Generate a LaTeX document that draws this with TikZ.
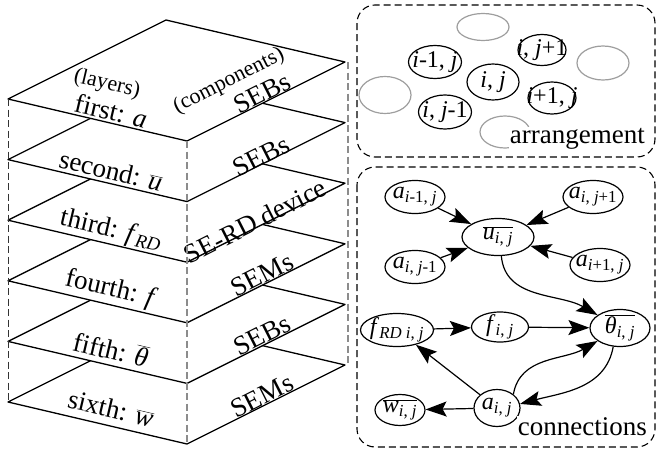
\documentclass[tikz,border=0pt]{standalone}
\usepackage{fontspec}
\setmainfont{Liberation Serif}
\usetikzlibrary{arrows.meta,shapes.geometric}
\newcommand{\vi}[1]{\textit{#1}}
\newcommand{\ol}[1]{$\overline{\hbox{#1}}$}
\newcommand{\sbs}[1]{\textsubscript{#1}}

\begin{document}
\begin{tikzpicture}[x=1pt,y=-1pt,
    layer/.style={draw,fill=white,line width=1.3pt,line join=round},
    guide/.style={line width=1.1pt,dash pattern=on 7pt off 3.5pt},
    big/.style={font=\fontsize{27}{29}\selectfont,inner sep=0pt},
    small/.style={font=\fontsize{22}{24}\selectfont,inner sep=0pt},
    cell/.style={draw,ellipse,line width=1.2pt,inner sep=0pt,minimum height=33pt},
    ghost/.style={draw=black!38,ellipse,line width=1.2pt,inner sep=0pt},
    frame/.style={draw,line width=1.1pt,dash pattern=on 7pt off 4pt,rounded corners=18pt},
    link/.style={-{Stealth[length=21pt,width=15pt,inset=4pt]},line width=1.2pt},
    every label/.style={font=\fontsize{24}{26}\selectfont,inner sep=0pt}]
\useasboundingbox (0,0) rectangle (657,450);

% stack of layers, bottom one first
\foreach \k/\lay/\comp/\cx/\cy in {5/sixth: \ol{\vi{w}}/SEMs/262/396,4/fifth: \ol{\vi{θ}}/SEBs/262/335,
    3/fourth: \vi{f}/SEMs/262/275,2/third: \vi{f}\sbs{\vi{RD}}/SE-RD device/255/221,
    1/second: \ol{\vi{u}}/SEBs/261/156,0/first: \vi{a}/SEBs/262/93}{
  \pgfmathsetmacro{\dy}{60.6*\k}
  \draw[layer] (8,99+\dy) -- (166,20+\dy) -- (345,62+\dy) -- (187,141+\dy) -- cycle;
  \node[big,rotate=-13.2] (lay\k) at (111,111+59.5*\k) {\lay};
  \node[big,rotate=26.9] (comp\k) at (\cx,\cy) {\comp};
}
\node[small,rotate=-13.2] (layers) at (107,84) {(layers)};
\node[small,rotate=26.9] (components) at (229,81) {(components)};

\draw[guide,black!80,line width=0.9pt] (8,99) -- (8,402);
\draw[guide,black!45] (187,141) -- (187,444);
\draw[guide,black!45] (348,62) -- (348,365);

% the two panels
\draw[frame] (357,5) rectangle (655,157);
\draw[frame] (357,167) rectangle (655,447);

% arrangement
\node[ghost,minimum width=52pt,minimum height=27pt] (g1) at (483,27) {};
\node[ghost,minimum width=52pt,minimum height=34pt] (g2) at (603,63) {};
\node[ghost,minimum width=52pt,minimum height=37pt] (g3) at (385,95) {};
\node[ghost,minimum width=50pt,minimum height=32pt] (g4) at (505,132) {};
\node[cell,minimum width=53pt,label={center:{\vi{i}-1, \vi{j}}}] (im) at (435,62) {};
\node[cell,minimum width=48pt,minimum height=31pt,label={center:{\vi{i}, \vi{j}+1}}] (jp) at (542,50) {};
\node[cell,minimum width=52pt,minimum height=36pt,label={center:{\vi{i}, \vi{j}}}] (ij) at (493,82) {};
\node[cell,minimum width=48pt,minimum height=32pt,label={center:{\vi{i}+1, \vi{j}}}] (ip) at (552,98) {};
\node[cell,minimum width=53pt,minimum height=34pt,label={center:{\vi{i}, \vi{j}-1}}] (jm) at (445,112) {};
\node[big,fill=white,inner sep=1pt,anchor=base east] (arr) at (646,143) {arrangement};

% connections
\node[cell,minimum width=60pt,label={center:{\vi{a}\sbs{\vi{i}-1, \vi{j}}}}] (aim) at (415,197) {};
\node[cell,minimum width=60pt,label={center:{\vi{a}\sbs{\vi{i}, \vi{j}+1}}}] (ajp) at (593,197) {};
\node[cell,minimum width=72pt,minimum height=37pt,label={center:{\ol{\vi{u}\sbs{\vi{i}, \vi{j}}}}}] (ubar) at (498,237) {};
\node[cell,minimum width=60pt,label={center:{\vi{a}\sbs{\vi{i}, \vi{j}-1}}}] (ajm) at (415,267) {};
\node[cell,minimum width=60pt,label={center:{\vi{a}\sbs{\vi{i}+1, \vi{j}}}}] (aip) at (600,265) {};
\node[cell,minimum width=73pt,label={center:{\vi{f}\sbs{\vi{RD i}, \vi{j}}}}] (frd) at (397,330) {};
\node[cell,minimum width=57pt,minimum height=30pt,label={center:{\vi{f}\sbs{\vi{i}, \vi{j}}}}] (fij) at (500,327) {};
\node[cell,minimum width=60pt,minimum height=37pt,label={center:{\ol{\vi{θ}\sbs{\vi{i}, \vi{j}}}}}] (thb) at (620,328) {};
\node[cell,minimum width=50pt,minimum height=31pt,label={center:{\ol{\vi{w}\sbs{\vi{i}, \vi{j}}}}}] (wbar) at (400,410) {};
\node[cell,minimum width=46pt,minimum height=37pt,label={center:{\vi{a}\sbs{\vi{i}, \vi{j}}}}] (aij) at (497,408) {};
\node[big,fill=white,inner sep=1pt,anchor=base east] (con) at (648,435) {connections};

\draw[link] (aim) -- (ubar);
\draw[link] (ajm) -- (ubar);
\draw[link] (ajp) -- (ubar);
\draw[link] (aip) -- (ubar);
\draw[link] (ubar.280) to[out=275,in=150] (thb);
\draw[link] (frd) -- (fij);
\draw[link] (fij) -- (thb);
\draw[link] (aij) -- (frd);
\draw[link] (aij) -- (wbar);
\draw[link] (aij.40) to[out=80,in=210] (thb);
\draw[link] (thb.250) to[out=260,in=15] (aij.10);
\end{tikzpicture}
\end{document}
